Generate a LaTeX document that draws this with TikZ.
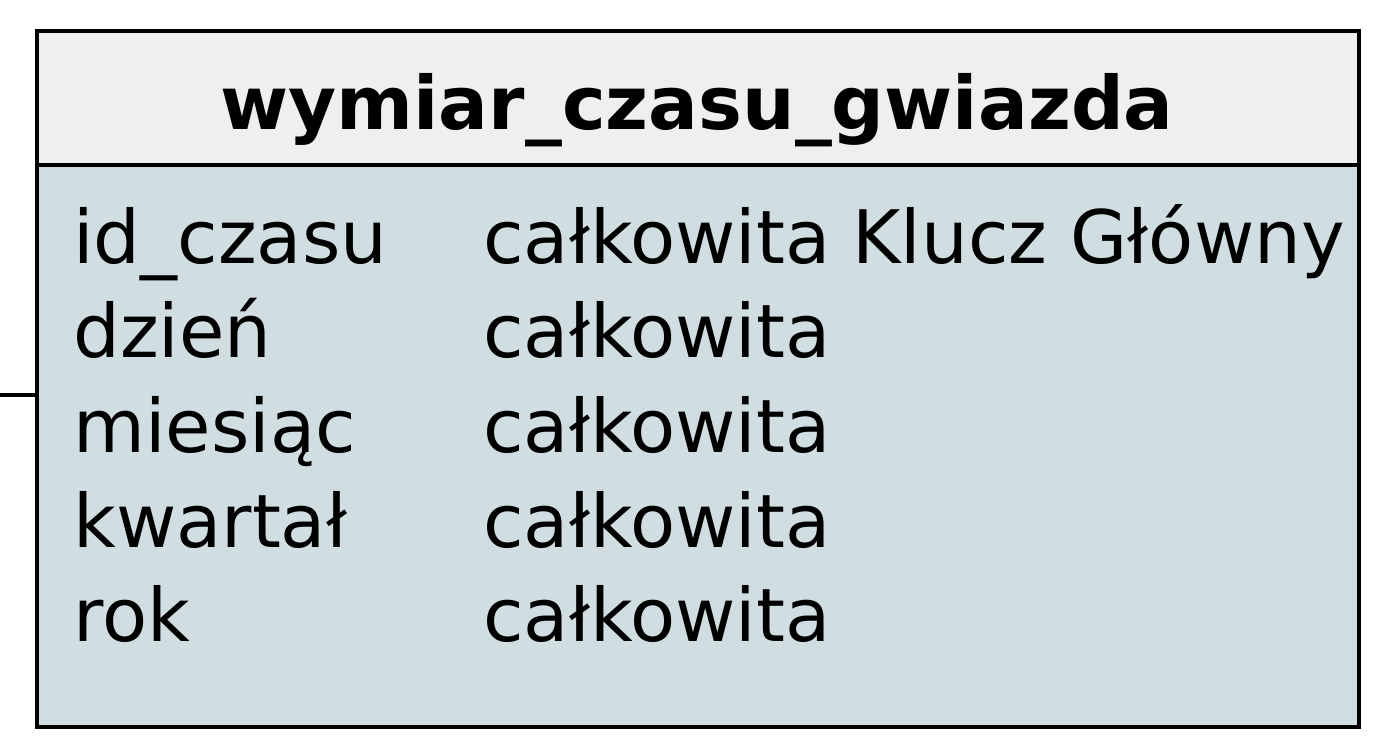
\documentclass[tikz,border=0pt]{standalone}
\usepackage{fontspec}
\setmainfont{DejaVu Sans}
\definecolor{headgray}{HTML}{EFEFEF}
\definecolor{bodyblue}{HTML}{D0DEE2}
\tikzset{
  tablebox/.style={draw, line width=2pt, inner sep=0pt, minimum width=26.44cm},
  field/.style={anchor=base west, inner sep=0pt, font=\fontsize{42}{50}\selectfont}
}

\begin{document}
\begin{tikzpicture}[x=0.02cm,y=-0.02cm]
\useasboundingbox (0,0) rectangle (1396,752);
%table boxes
\node (head) [tablebox, fill=headgray, minimum height=2.68cm] at (698,98) {};
\node (body) [tablebox, fill=bodyblue, minimum height=11.24cm] at (698,446) {};
\node (title) [anchor=base, inner sep=0pt, font=\bfseries\fontsize{42}{50}\selectfont] at (697,129) {wymiar\_czasu\_gwiazda};
%link line
\coordinate (link) at (0,395);
\draw [line width=2pt] (link) -- (link -| body.west);
%column names
\node (n1) [field] at (73,263) {id\_czasu};
\node (n2) [field] at (73,357) {dzień};
\node (n3) [field] at (73,452) {miesiąc};
\node (n4) [field] at (73,547) {kwartał};
\node (n5) [field] at (73,641) {rok};
%types
\node (t1) [field] at (483,263) {całkowita};
\node (t2) [field] at (483,357) {całkowita};
\node (t3) [field] at (483,452) {całkowita};
\node (t4) [field] at (483,547) {całkowita};
\node (t5) [field] at (483,641) {całkowita};
\node (key) [field] at (852,263) {Klucz Główny};
\end{tikzpicture}
\end{document}
